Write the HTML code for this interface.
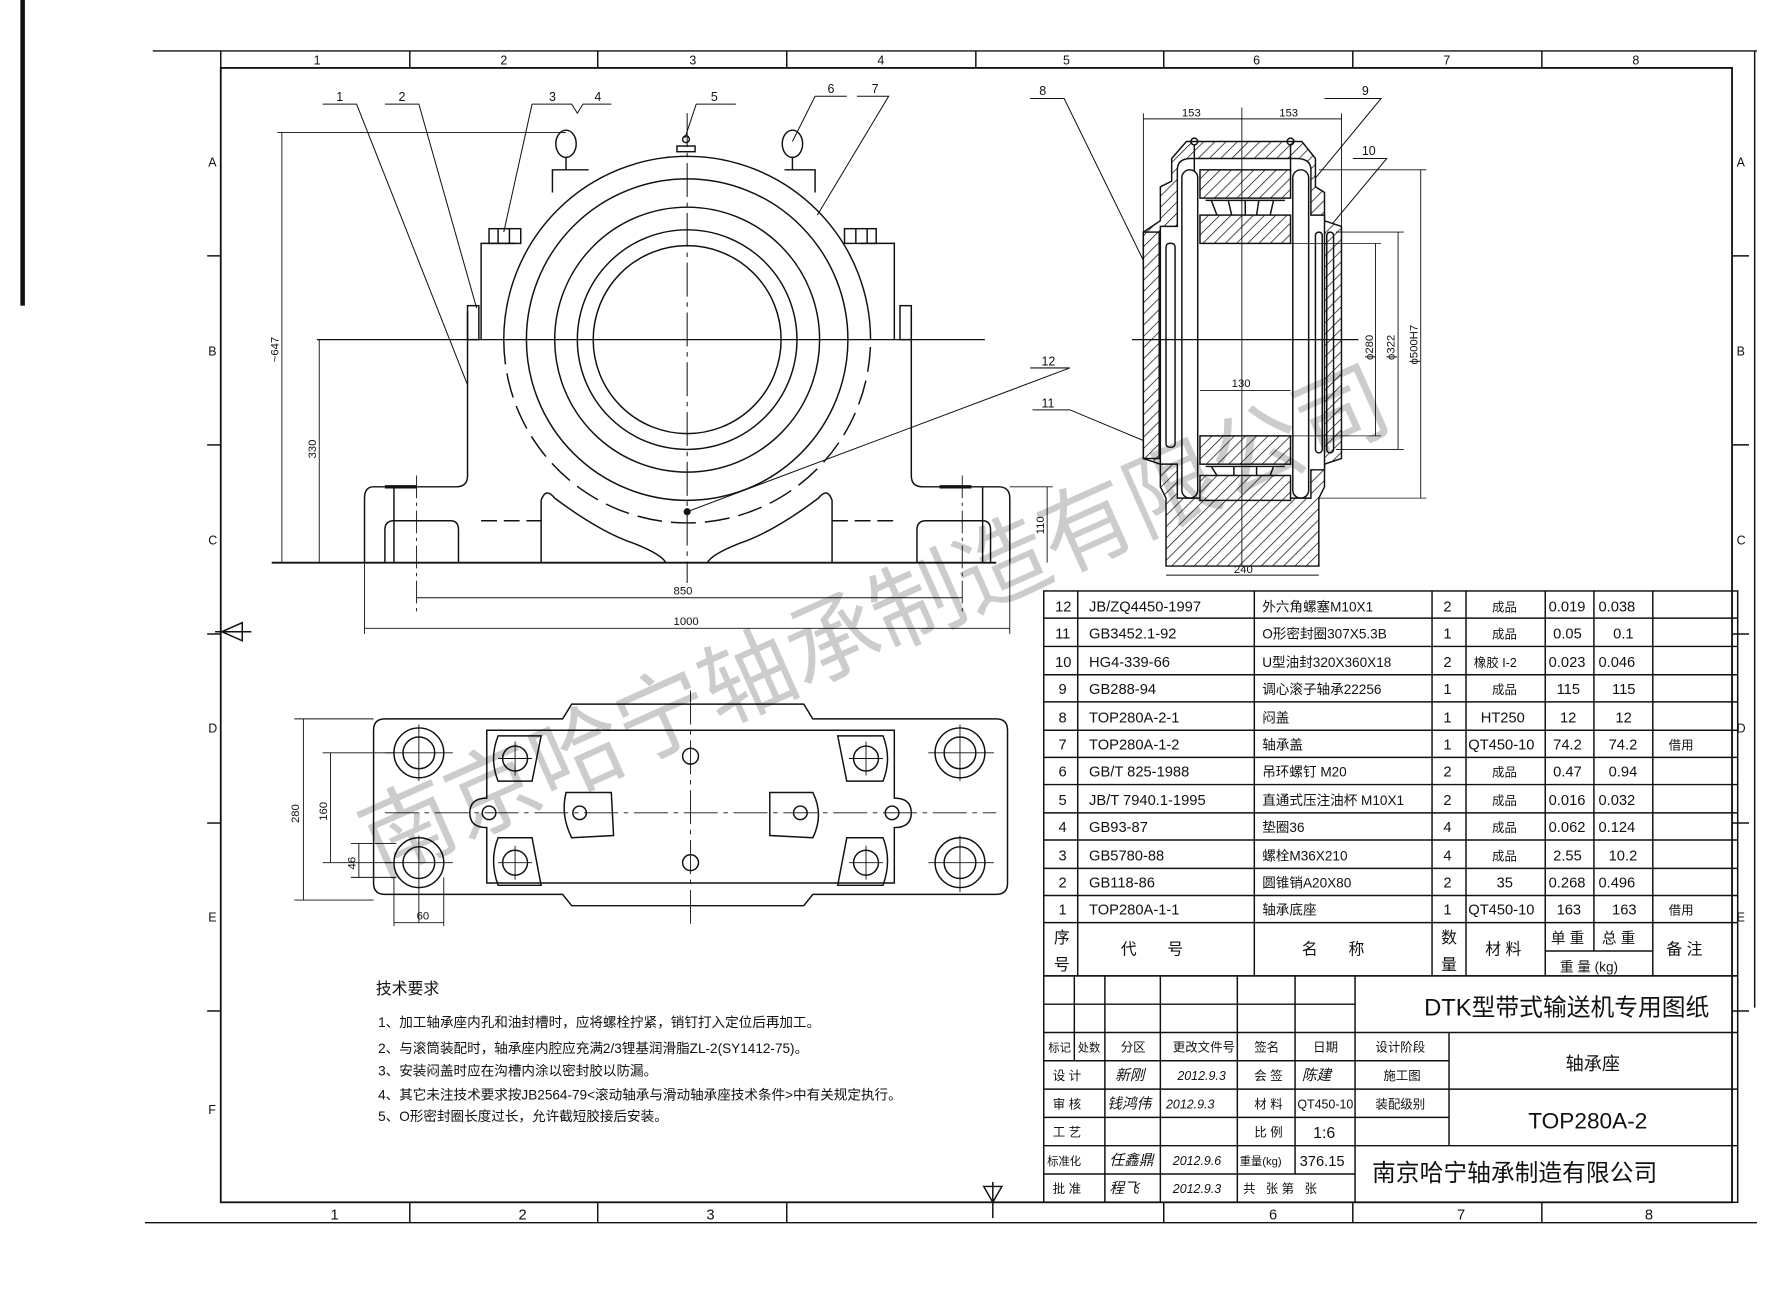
<!DOCTYPE html>
<html><head><meta charset="utf-8"><style>
html,body{margin:0;padding:0;background:#fff;}
svg{display:block;}
text{font-family:"Liberation Sans","Noto Sans CJK SC",sans-serif;fill:#111;}
</style></head><body>
<svg width="1766" height="1294" viewBox="0 0 1560 1143" preserveAspectRatio="none" xmlns="http://www.w3.org/2000/svg">
<defs>
<pattern id="h" patternUnits="userSpaceOnUse" width="7" height="7" patternTransform="rotate(45)">
<rect width="7" height="7" fill="#fff"/><line x1="0" y1="0" x2="0" y2="7" stroke="#111" stroke-width="1.3"/></pattern>
</defs>
<rect width="1560" height="1143" fill="#fff"/>
<!-- left black bar -->
<rect x="18" y="0" width="4" height="270" fill="#111"/>
<g stroke="#111" fill="none" stroke-width="1.3">
<!-- outer frame -->
<line x1="135" y1="45" x2="1552" y2="45"/>
<line x1="128" y1="1080" x2="1552" y2="1080"/>
<line x1="1550" y1="45" x2="1550" y2="890"/>
<rect x="195" y="60" width="1335" height="1002" stroke-width="1.6"/>
<line x1="195" y1="60" x2="195" y2="45"/>
<line x1="362" y1="45" x2="362" y2="60"/><line x1="528" y1="45" x2="528" y2="60"/><line x1="695" y1="45" x2="695" y2="60"/><line x1="862" y1="45" x2="862" y2="60"/><line x1="1028" y1="45" x2="1028" y2="60"/><line x1="1195" y1="45" x2="1195" y2="60"/><line x1="1362" y1="45" x2="1362" y2="60"/>
<line x1="362" y1="1062" x2="362" y2="1080"/><line x1="528" y1="1062" x2="528" y2="1080"/><line x1="695" y1="1062" x2="695" y2="1080"/><line x1="1028" y1="1062" x2="1028" y2="1080"/><line x1="1195" y1="1062" x2="1195" y2="1080"/><line x1="1362" y1="1062" x2="1362" y2="1080"/>
<line x1="183" y1="226" x2="195" y2="226"/><line x1="183" y1="393" x2="195" y2="393"/><line x1="183" y1="560" x2="195" y2="560"/><line x1="183" y1="727" x2="195" y2="727"/><line x1="183" y1="893" x2="195" y2="893"/>
<line x1="1530" y1="226" x2="1545" y2="226"/><line x1="1530" y1="393" x2="1545" y2="393"/><line x1="1530" y1="560" x2="1545" y2="560"/><line x1="1530" y1="727" x2="1545" y2="727"/><line x1="1530" y1="893" x2="1545" y2="893"/>
<!-- triangles -->
<path d="M196 558 L214 550 L214 566 Z M190 558 L222 558"/>
<path d="M877 1062 L869 1048 L885 1048 Z M877 1044 L877 1076"/>

<!-- FRONT VIEW -->
<line x1="607" y1="100" x2="607" y2="515" stroke-dasharray="30 5 4 5" stroke-width="0.9"/>
<line x1="280" y1="300" x2="870" y2="300" stroke-width="1.1"/>
<path d="M445 300 A162 162 0 0 1 769 300"/>
<circle cx="607" cy="300" r="142"/><circle cx="607" cy="300" r="117"/><circle cx="607" cy="300" r="97"/><circle cx="607" cy="300" r="83"/>
<path d="M445 300 A162 162 0 0 0 769 300" stroke-dasharray="22 8"/>
<!-- cap blocks -->
<path d="M425 300 L425 215 L455 215 M760 215 L790 215 L790 300"/>
<rect x="432" y="202" width="28" height="13"/><line x1="440" y1="202" x2="440" y2="215"/><line x1="450" y1="202" x2="450" y2="215"/>
<rect x="746" y="202" width="28" height="13"/><line x1="756" y1="202" x2="756" y2="215"/><line x1="766" y1="202" x2="766" y2="215"/>
<path d="M488 170 L488 150 L520 150 M693 150 L720 150 L720 170"/>
<ellipse cx="500" cy="127" rx="9" ry="12"/><ellipse cx="700" cy="127" rx="9" ry="12"/>
<line x1="500" y1="139" x2="500" y2="150"/><line x1="700" y1="139" x2="700" y2="150"/>
<rect x="598" y="129" width="16" height="5"/><circle cx="606" cy="123" r="3"/>
<!-- pedestal -->
<path d="M413 275 L413 420 Q413 430 403 430 L330 430 Q322 430 322 440 L322 497"/>
<path d="M805 275 L805 420 Q805 430 815 430 L882 430 Q892 430 892 440 L892 497"/>
<rect x="413" y="270" width="10" height="30"/><rect x="795" y="270" width="10" height="30"/>
<line x1="240" y1="497" x2="880" y2="497" stroke-width="1.6"/>
<path d="M340 497 L340 468 Q340 460 348 460 L398 460 Q405 460 405 468 L405 497"/>
<path d="M810 497 L810 468 Q810 460 818 460 L868 460 Q875 460 875 468 L875 497"/>
<path d="M478 497 L478 442 Q482 430 490 440 Q530 470 560 480 Q585 490 588 497"/>
<path d="M735 497 L735 442 Q731 430 723 440 Q683 470 653 480 Q628 490 625 497"/>
<line x1="425" y1="460" x2="478" y2="460" stroke-dasharray="14 6"/><line x1="735" y1="460" x2="790" y2="460" stroke-dasharray="14 6"/>
<line x1="340" y1="430" x2="368" y2="430" stroke-width="3"/><line x1="830" y1="430" x2="858" y2="430" stroke-width="3"/>
<line x1="348" y1="430" x2="348" y2="497"/><line x1="368" y1="420" x2="368" y2="540" stroke-dasharray="20 4 3 4" stroke-width="0.8"/>
<line x1="850" y1="420" x2="850" y2="540" stroke-dasharray="20 4 3 4" stroke-width="0.8"/><line x1="868" y1="430" x2="868" y2="497"/>
<!-- dims front -->
<line x1="245" y1="117" x2="500" y2="117" stroke-width="0.8"/>
<line x1="249" y1="117" x2="249" y2="497" stroke-width="0.8"/>
<line x1="282" y1="300" x2="282" y2="497" stroke-width="0.8"/>
<line x1="892" y1="430" x2="930" y2="430" stroke-width="0.8"/><line x1="925" y1="430" x2="925" y2="497" stroke-width="0.8"/>
<line x1="368" y1="528" x2="850" y2="528" stroke-width="0.8"/><line x1="322" y1="497" x2="322" y2="560" stroke-width="0.8"/><line x1="892" y1="497" x2="892" y2="560" stroke-width="0.8"/>
<line x1="322" y1="555" x2="892" y2="555" stroke-width="0.8"/>
<!-- leaders -->
<g stroke-width="0.9">
<path d="M285 92 L315 92 L413 340"/><path d="M340 92 L370 92 L421 272"/>
<path d="M470 92 L505 92 L510 100 L515 92 L540 92"/><path d="M470 92 L445 205"/>
<path d="M615 92 L650 92"/><path d="M615 92 L605 122"/>
<path d="M720 85 L748 85"/><path d="M720 85 L700 125"/>
<path d="M757 85 L785 85 L722 190"/>
<path d="M910 87 L940 87 L1010 230"/>
<path d="M1170 87 L1220 87 L1135 190"/>
<path d="M1195 140 L1225 140 L1175 200"/>
<path d="M912 362 L945 362 L1012 390"/>
<path d="M910 325 L945 325 L607 452"/>
</g>
<circle cx="607" cy="452" r="2.5" fill="#111"/>

<!-- SECTION VIEW -->
<path d="M1010 205 L1025 195 L1025 165 L1035 160 L1035 140 L1048 125 L1150 125 L1162 140 L1162 165 L1170 170 L1170 195 L1185 200 L1185 405 L1170 410 L1170 430 L1165 440 L1165 500 L1030 500 L1030 440 L1025 430 L1025 410 L1010 405 Z" fill="url(#h)"/>
<path d="M1040 150 Q1040 140 1052 140 L1145 140 Q1158 140 1158 150 L1158 190 L1170 190 L1170 415 L1158 415 L1158 440 L1040 440 L1040 410 L1025 410 L1025 200 L1040 200 Z" fill="#fff"/>
<rect x="1010" y="205" width="14" height="200" fill="url(#h)"/>
<rect x="1060" y="150" width="80" height="25" fill="url(#h)"/>
<rect x="1060" y="190" width="80" height="25" fill="url(#h)"/>
<rect x="1060" y="385" width="80" height="25" fill="url(#h)"/>
<rect x="1060" y="420" width="80" height="22" fill="url(#h)"/>
<path d="M1065 177 L1135 177 M1070 177 L1075 190 M1085 177 L1088 190 M1100 177 L1100 190 M1112 177 L1110 190 M1125 177 L1122 190 M1065 412 L1135 412 M1070 412 L1075 420 M1090 412 L1090 420 M1110 412 L1110 420 M1125 412 L1122 420"/>
<rect x="1044" y="150" width="14" height="290" rx="7"/><rect x="1142" y="150" width="14" height="290" rx="7"/>
<rect x="1030" y="215" width="8" height="180" rx="3"/><rect x="1162" y="205" width="6" height="195" rx="3"/><rect x="1172" y="205" width="6" height="195" rx="3"/>
<line x1="1055" y1="128" x2="1055" y2="152"/><circle cx="1055" cy="125" r="3"/><line x1="1140" y1="128" x2="1140" y2="152"/><circle cx="1140" cy="125" r="3"/>
<line x1="1097" y1="95" x2="1097" y2="500" stroke-width="0.8"/>
<line x1="1000" y1="300" x2="1200" y2="300" stroke-width="1.1"/>
<line x1="1010" y1="105" x2="1185" y2="105" stroke-width="0.8"/><line x1="1010" y1="100" x2="1010" y2="205" stroke-width="0.8"/><line x1="1185" y1="100" x2="1185" y2="200" stroke-width="0.8"/>
<line x1="1060" y1="345" x2="1140" y2="345" stroke-width="0.8"/>
<line x1="1030" y1="508" x2="1165" y2="508" stroke-width="0.8"/>
<line x1="1140" y1="215" x2="1220" y2="215" stroke-width="0.7"/><line x1="1140" y1="385" x2="1220" y2="385" stroke-width="0.7"/><line x1="1215" y1="215" x2="1215" y2="385" stroke-width="0.8"/>
<line x1="1180" y1="205" x2="1240" y2="205" stroke-width="0.7"/><line x1="1180" y1="397" x2="1240" y2="397" stroke-width="0.7"/><line x1="1235" y1="205" x2="1235" y2="397" stroke-width="0.8"/>
<line x1="1165" y1="150" x2="1260" y2="150" stroke-width="0.7"/><line x1="1165" y1="440" x2="1260" y2="440" stroke-width="0.7"/><line x1="1255" y1="150" x2="1255" y2="440" stroke-width="0.8"/>

<!-- PLAN VIEW -->
<path d="M340 635 L497 635 L505 622 L710 622 L718 635 L880 635 Q890 635 890 645 L890 780 Q890 790 880 790 L718 790 L710 800 L505 800 L497 790 L340 790 Q330 790 330 780 L330 645 Q330 635 340 635 Z"/>
<path d="M430 645 L790 645 L790 705 Q805 705 805 718 Q805 731 790 731 L790 780 L430 780 L430 731 Q415 731 415 718 Q415 705 430 705 Z"/>
<circle cx="370" cy="665" r="22"/><circle cx="370" cy="665" r="14"/><circle cx="848" cy="665" r="22"/><circle cx="848" cy="665" r="14"/>
<circle cx="370" cy="762" r="22"/><circle cx="370" cy="762" r="14"/><circle cx="848" cy="762" r="22"/><circle cx="848" cy="762" r="14"/>
<path d="M440 650 L478 650 L470 690 L440 690 Q432 670 440 650 Z"/><circle cx="455" cy="670" r="11"/>
<path d="M740 650 L780 650 Q788 670 780 690 L748 690 Z"/><circle cx="765" cy="670" r="11"/>
<path d="M440 740 L470 740 L478 782 L440 782 Q432 760 440 740 Z"/><circle cx="455" cy="762" r="11"/>
<path d="M748 740 L780 740 Q788 760 780 782 L740 782 Z"/><circle cx="765" cy="762" r="11"/>
<circle cx="610" cy="668" r="7"/><circle cx="610" cy="762" r="7"/><circle cx="432" cy="718" r="6"/><circle cx="788" cy="718" r="6"/>
<path d="M500 700 L540 700 L542 738 L505 740 Q495 720 500 700 Z"/><circle cx="512" cy="718" r="6"/>
<path d="M680 700 L718 700 Q728 720 718 740 L680 738 Z"/><circle cx="707" cy="718" r="6"/>
<g stroke-width="0.8">
<line x1="610" y1="610" x2="610" y2="820" stroke-dasharray="30 5 4 5"/>
<line x1="340" y1="718" x2="880" y2="718" stroke-dasharray="30 5 4 5"/>
<line x1="340" y1="665" x2="400" y2="665"/><line x1="370" y1="640" x2="370" y2="690"/><line x1="820" y1="665" x2="878" y2="665"/><line x1="848" y1="640" x2="848" y2="690"/>
<line x1="340" y1="762" x2="400" y2="762"/><line x1="370" y1="738" x2="370" y2="815"/><line x1="820" y1="762" x2="878" y2="762"/><line x1="848" y1="738" x2="848" y2="788"/>
<line x1="440" y1="670" x2="470" y2="670"/><line x1="455" y1="655" x2="455" y2="685"/><line x1="750" y1="670" x2="780" y2="670"/><line x1="765" y1="655" x2="765" y2="685"/>
<line x1="440" y1="762" x2="470" y2="762"/><line x1="455" y1="747" x2="455" y2="777"/><line x1="750" y1="762" x2="780" y2="762"/><line x1="765" y1="747" x2="765" y2="777"/>
<line x1="260" y1="635" x2="330" y2="635"/><line x1="260" y1="795" x2="330" y2="795"/><line x1="268" y1="635" x2="268" y2="795"/>
<line x1="285" y1="665" x2="348" y2="665"/><line x1="285" y1="762" x2="348" y2="762"/><line x1="292" y1="665" x2="292" y2="762"/>
<line x1="310" y1="745" x2="350" y2="745"/><line x1="310" y1="775" x2="350" y2="775"/><line x1="317" y1="745" x2="317" y2="775"/>
<line x1="348" y1="775" x2="348" y2="818"/><line x1="392" y1="775" x2="392" y2="818"/><line x1="348" y1="815" x2="392" y2="815"/>
</g>

<!-- TABLE -->
<g stroke-width="1.3">
<rect x="922" y="522" width="613" height="340"/>
<line x1="922" y1="546" x2="1535" y2="546"/><line x1="922" y1="571" x2="1535" y2="571"/><line x1="922" y1="596" x2="1535" y2="596"/><line x1="922" y1="620" x2="1535" y2="620"/><line x1="922" y1="645" x2="1535" y2="645"/><line x1="922" y1="669" x2="1535" y2="669"/><line x1="922" y1="693" x2="1535" y2="693"/><line x1="922" y1="718" x2="1535" y2="718"/><line x1="922" y1="742" x2="1535" y2="742"/><line x1="922" y1="767" x2="1535" y2="767"/><line x1="922" y1="791" x2="1535" y2="791"/><line x1="922" y1="815" x2="1535" y2="815"/>
<line x1="952" y1="522" x2="952" y2="862"/><line x1="1108" y1="522" x2="1108" y2="862"/><line x1="1265" y1="522" x2="1265" y2="862"/><line x1="1295" y1="522" x2="1295" y2="862"/><line x1="1365" y1="522" x2="1365" y2="862"/><line x1="1408" y1="522" x2="1408" y2="840"/><line x1="1460" y1="522" x2="1460" y2="862"/>
<line x1="1365" y1="840" x2="1460" y2="840"/>
<!-- title block -->
<rect x="922" y="862" width="613" height="200"/>
<line x1="922" y1="887" x2="1197" y2="887"/><line x1="922" y1="912" x2="1535" y2="912"/><line x1="922" y1="937" x2="1280" y2="937"/><line x1="922" y1="962" x2="1535" y2="962"/><line x1="922" y1="987" x2="1280" y2="987"/><line x1="922" y1="1012" x2="1535" y2="1012"/><line x1="922" y1="1037" x2="1197" y2="1037"/>
<line x1="949" y1="862" x2="949" y2="937"/><line x1="976" y1="862" x2="976" y2="1062"/><line x1="1025" y1="862" x2="1025" y2="1062"/><line x1="1093" y1="862" x2="1093" y2="1062"/><line x1="1144" y1="862" x2="1144" y2="1037"/><line x1="1197" y1="862" x2="1197" y2="1062"/><line x1="1280" y1="912" x2="1280" y2="1012"/>
</g>
</g>

<!-- watermark -->
<text x="0" y="0" transform="translate(335,775) rotate(-24)" font-size="82" fill="#000" fill-opacity="0.22" style="fill:#000;fill-opacity:0.2" font-family="Liberation Serif, Noto Serif CJK SC, serif">南京哈宁轴承制造有限公司</text>

<g font-size="11">
<text x="277" y="57">1</text><text x="442" y="57">2</text><text x="609" y="57">3</text><text x="775" y="57">4</text><text x="939" y="57">5</text><text x="1107" y="57">6</text><text x="1275" y="57">7</text><text x="1442" y="57">8</text>
<text x="292" y="1077" font-size="13">1</text><text x="458" y="1077" font-size="13">2</text><text x="624" y="1077" font-size="13">3</text><text x="1121" y="1077" font-size="13">6</text><text x="1287" y="1077" font-size="13">7</text><text x="1453" y="1077" font-size="13">8</text>
<text x="184" y="147">A</text><text x="184" y="314">B</text><text x="184" y="481">C</text><text x="184" y="647">D</text><text x="184" y="814">E</text><text x="184" y="984">F</text>
<text x="1534" y="147">A</text><text x="1534" y="314">B</text><text x="1534" y="481">C</text><text x="1534" y="647">D</text><text x="1534" y="814">E</text>
<text x="297" y="89">1</text><text x="352" y="89">2</text><text x="485" y="89">3</text><text x="525" y="89">4</text><text x="628" y="89">5</text><text x="731" y="82">6</text><text x="770" y="82">7</text><text x="918" y="84">8</text><text x="1203" y="84">9</text><text x="1203" y="137">10</text><text x="920" y="360">11</text><text x="920" y="323">12</text>
<text x="595" y="525" font-size="10">850</text><text x="595" y="552" font-size="10">1000</text>
<text x="1044" y="103" font-size="10">153</text><text x="1130" y="103" font-size="10">153</text><text x="1088" y="342" font-size="10">130</text><text x="1090" y="506" font-size="10">240</text>
<text x="368" y="812" font-size="10">60</text>
<text font-size="10" transform="translate(246,320) rotate(-90)">~647</text>
<text font-size="10" transform="translate(279,405) rotate(-90)">330</text>
<text font-size="10" transform="translate(922,472) rotate(-90)">110</text>
<text font-size="10" transform="translate(264,727) rotate(-90)">280</text>
<text font-size="10" transform="translate(289,725) rotate(-90)">160</text>
<text font-size="10" transform="translate(314,768) rotate(-90)">46</text>
<text font-size="10" transform="translate(1213,318) rotate(-90)">ϕ280</text>
<text font-size="10" transform="translate(1232,318) rotate(-90)">ϕ322</text>
<text font-size="10" transform="translate(1252,322) rotate(-90)">ϕ500H7</text>
</g>

<!-- tech requirements -->
<g font-size="12">
<text x="332" y="878" font-size="14">技术要求</text>
<text x="334" y="907">1、加工轴承座内孔和油封槽时，应将螺栓拧紧，销钉打入定位后再加工。</text>
<text x="334" y="930">2、与滚筒装配时，轴承座内腔应充满2/3锂基润滑脂ZL-2(SY1412-75)。</text>
<text x="334" y="950">3、安装闷盖时应在沟槽内涂以密封胶以防漏。</text>
<text x="334" y="971">4、其它未注技术要求按JB2564-79&lt;滚动轴承与滑动轴承座技术条件&gt;中有关规定执行。</text>
<text x="334" y="990">5、O形密封圈长度过长，允许截短胶接后安装。</text>
</g>

<!-- table text -->
<g font-size="13">
<text x="932" y="540">12</text><text x="962" y="540">JB/ZQ4450-1997</text><text x="1115" y="540" font-size="12">外六角螺塞M10X1</text><text x="1275" y="540">2</text><text x="1318" y="540" font-size="11">成品</text><text x="1368" y="540">0.019</text><text x="1412" y="540">0.038</text>
<text x="932" y="564">11</text><text x="962" y="564">GB3452.1-92</text><text x="1115" y="564" font-size="12">O形密封圈307X5.3B</text><text x="1275" y="564">1</text><text x="1318" y="564" font-size="11">成品</text><text x="1372" y="564">0.05</text><text x="1425" y="564">0.1</text>
<text x="932" y="589">10</text><text x="962" y="589">HG4-339-66</text><text x="1115" y="589" font-size="12">U型油封320X360X18</text><text x="1275" y="589">2</text><text x="1302" y="589" font-size="11">橡胶 I-2</text><text x="1368" y="589">0.023</text><text x="1412" y="589">0.046</text>
<text x="935" y="613">9</text><text x="962" y="613">GB288-94</text><text x="1115" y="613" font-size="12">调心滚子轴承22256</text><text x="1275" y="613">1</text><text x="1318" y="613" font-size="11">成品</text><text x="1375" y="613">115</text><text x="1424" y="613">115</text>
<text x="935" y="638">8</text><text x="962" y="638">TOP280A-2-1</text><text x="1115" y="638" font-size="12">闷盖</text><text x="1275" y="638">1</text><text x="1308" y="638">HT250</text><text x="1378" y="638">12</text><text x="1427" y="638">12</text>
<text x="935" y="662">7</text><text x="962" y="662">TOP280A-1-2</text><text x="1115" y="662" font-size="12">轴承盖</text><text x="1275" y="662">1</text><text x="1297" y="662">QT450-10</text><text x="1372" y="662">74.2</text><text x="1421" y="662">74.2</text><text x="1474" y="662" font-size="11">借用</text>
<text x="935" y="686">6</text><text x="962" y="686">GB/T 825-1988</text><text x="1115" y="686" font-size="12">吊环螺钉 M20</text><text x="1275" y="686">2</text><text x="1318" y="686" font-size="11">成品</text><text x="1372" y="686">0.47</text><text x="1421" y="686">0.94</text>
<text x="935" y="711">5</text><text x="962" y="711">JB/T 7940.1-1995</text><text x="1115" y="711" font-size="12">直通式压注油杯 M10X1</text><text x="1275" y="711">2</text><text x="1318" y="711" font-size="11">成品</text><text x="1368" y="711">0.016</text><text x="1412" y="711">0.032</text>
<text x="935" y="735">4</text><text x="962" y="735">GB93-87</text><text x="1115" y="735" font-size="12">垫圈36</text><text x="1275" y="735">4</text><text x="1318" y="735" font-size="11">成品</text><text x="1368" y="735">0.062</text><text x="1412" y="735">0.124</text>
<text x="935" y="760">3</text><text x="962" y="760">GB5780-88</text><text x="1115" y="760" font-size="12">螺栓M36X210</text><text x="1275" y="760">4</text><text x="1318" y="760" font-size="11">成品</text><text x="1372" y="760">2.55</text><text x="1421" y="760">10.2</text>
<text x="935" y="784">2</text><text x="962" y="784">GB118-86</text><text x="1115" y="784" font-size="12">圆锥销A20X80</text><text x="1275" y="784">2</text><text x="1322" y="784">35</text><text x="1368" y="784">0.268</text><text x="1412" y="784">0.496</text>
<text x="935" y="808">1</text><text x="962" y="808">TOP280A-1-1</text><text x="1115" y="808" font-size="12">轴承底座</text><text x="1275" y="808">1</text><text x="1297" y="808">QT450-10</text><text x="1375" y="808">163</text><text x="1424" y="808">163</text><text x="1474" y="808" font-size="11">借用</text>
<text x="931" y="833" font-size="14">序</text><text x="931" y="857" font-size="14">号</text>
<text x="990" y="843" font-size="14">代&#160;&#160;&#160;&#160;&#160;&#160;&#160;号</text>
<text x="1150" y="843" font-size="14">名&#160;&#160;&#160;&#160;&#160;&#160;&#160;称</text>
<text x="1273" y="833" font-size="14">数</text><text x="1273" y="857" font-size="14">量</text>
<text x="1312" y="843" font-size="14">材 料</text>
<text x="1370" y="833" font-size="13">单 重</text><text x="1415" y="833" font-size="13">总 重</text>
<text x="1378" y="858" font-size="12">重 量 (kg)</text>
<text x="1472" y="843" font-size="14">备 注</text>
</g>

<!-- title block text -->
<g font-size="11">
<text x="1258" y="897" font-size="21">DTK型带式输送机专用图纸</text>
<text x="1383" y="945" font-size="16">轴承座</text>
<text x="1350" y="997" font-size="20">TOP280A-2</text>
<text x="1212" y="1043" font-size="21">南京哈宁轴承制造有限公司</text>
<text x="926" y="929" font-size="10">标记</text><text x="952" y="929" font-size="10">处数</text><text x="990" y="929">分区</text><text x="1036" y="929">更改文件号</text><text x="1108" y="929">签名</text><text x="1160" y="929">日期</text><text x="1215" y="929">设计阶段</text>
<text x="930" y="954">设 计</text><text x="1108" y="954">会 签</text><text x="1222" y="954">施工图</text>
<text x="930" y="979">审 核</text><text x="1108" y="979">材 料</text><text x="1146" y="979" font-size="11">QT450-10</text><text x="1215" y="979">装配级别</text>
<text x="930" y="1004">工 艺</text><text x="1108" y="1004">比 例</text><text x="1160" y="1005" font-size="14">1:6</text>
<text x="925" y="1029" font-size="10">标准化</text><text x="1095" y="1029" font-size="10">重量(kg)</text><text x="1148" y="1030" font-size="13">376.15</text>
<text x="930" y="1054">批 准</text><text x="1098" y="1054">共&#160;&#160;&#160;张 第&#160;&#160;&#160;张</text>
<text x="985" y="954" font-size="13" font-style="italic">新刚</text><text x="1040" y="954" font-size="11" font-style="italic">2012.9.3</text><text x="1150" y="954" font-size="13" font-style="italic">陈建</text>
<text x="978" y="979" font-size="13" font-style="italic">钱鸿伟</text><text x="1030" y="979" font-size="11" font-style="italic">2012.9.3</text>
<text x="980" y="1029" font-size="13" font-style="italic">任鑫鼎</text><text x="1036" y="1029" font-size="11" font-style="italic">2012.9.6</text>
<text x="980" y="1054" font-size="13" font-style="italic">程飞</text><text x="1036" y="1054" font-size="11" font-style="italic">2012.9.3</text>
</g>
</svg>
</body></html>
